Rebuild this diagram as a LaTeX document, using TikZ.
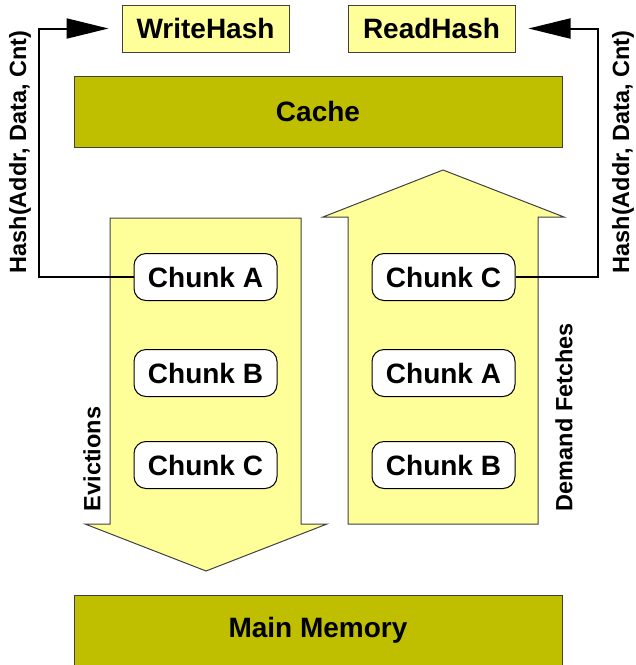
\documentclass[tikz,border=0pt]{standalone}
\usepackage{fontspec}
\setmainfont{Liberation Sans}
\usetikzlibrary{arrows.meta}
\definecolor{paleyellow}{HTML}{FFFF99}
\definecolor{cacheolive}{HTML}{BFBF00}
\definecolor{edgegray}{HTML}{404040}

\begin{document}
\begin{tikzpicture}[x=1pt,y=-1pt,
  lbl/.style={font=\fontsize{28}{32}\selectfont\bfseries},
  side/.style={font=\fontsize{23.5}{27}\selectfont\bfseries, inner sep=0pt},
  hashbox/.style={draw=edgegray, fill=paleyellow, line width=1pt,
    minimum width=167pt, minimum height=47pt, inner sep=0pt, lbl},
  level/.style={draw=edgegray, fill=cacheolive, line width=1pt,
    minimum width=488pt, minimum height=71pt, inner sep=0pt, lbl},
  chunk/.style={draw=black, fill=white, rounded corners=12pt, line width=1pt,
    minimum width=143pt, minimum height=47pt, inner sep=0pt, lbl},
  bigarrow/.style={draw=edgegray, fill=paleyellow, line width=1pt},
  link/.style={draw=black, line width=2pt},
  tip/.style={-{Triangle[length=42pt,width=20pt]}, shorten >=13pt}
]
\path[use as bounding box, clip] (0,0) rectangle (636,665);

% hash units and memory levels
\node[hashbox] (wh) at (205.5,28.5) {WriteHash};
\node[hashbox] (rh) at (431.5,28.5) {ReadHash};
\node[level] (cache) at (318,111.5) {Cache};
\node[level, minimum height=70pt] (mem) at (318,630) {Main Memory};

% eviction stream (down) and demand-fetch stream (up)
\draw[bigarrow] (110,218) -- (301,218) -- (301,524) -- (327,524)
  -- (206,571) -- (85,524) -- (110,524) -- cycle;
\draw[bigarrow] (348,524) -- (538,524) -- (538,217) -- (564,217)
  -- (443,170) -- (323,217) -- (348,217) -- cycle;

% chunks in flight
\node[chunk] (la) at (205.5,277) {Chunk A};
\node[chunk] (lb) at (205.5,373) {Chunk B};
\node[chunk] (lc) at (205.5,465) {Chunk C};
\node[chunk] (rc) at (443.5,277) {Chunk C};
\node[chunk] (ra) at (443.5,373) {Chunk A};
\node[chunk] (rb) at (443.5,465) {Chunk B};

% hash feeds
\coordinate (lbend) at (39,0);
\coordinate (rbend) at (598,0);
\draw[link, tip] (la.west) -| (lbend |- wh.west) -- (wh.west);
\draw[link, tip] (rc.east) -| (rbend |- rh.east) -- (rh.east);

% side labels
\node[side, rotate=90] (lhash) at (20,152) {Hash(Addr, Data, Cnt)};
\node[side, rotate=90] (rhash) at (623,152) {Hash(Addr, Data, Cnt)};
\node[side, rotate=90] (evict) at (92,459) {Evictions};
\node[side, rotate=90] (fetch) at (564,417) {Demand Fetches};
\end{tikzpicture}
\end{document}
